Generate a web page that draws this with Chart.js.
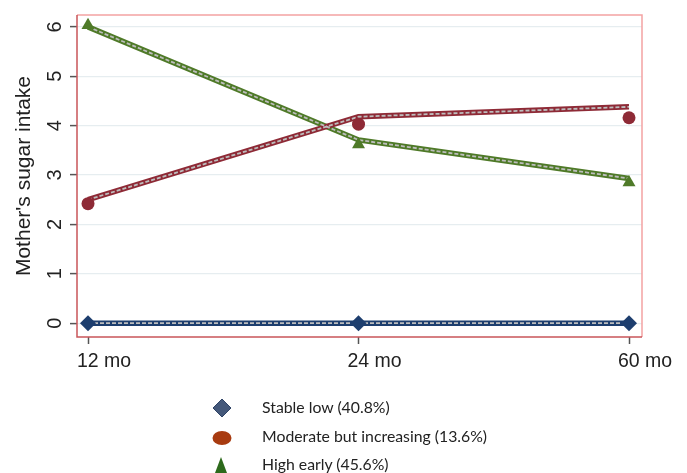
<!DOCTYPE html>
<html>
<head>
<meta charset="utf-8">
<script src="https://cdn.jsdelivr.net/npm/chart.js@4.4.1/dist/chart.umd.min.js"></script>
<style>
  body { margin: 0; background: #fff; }
  #wrap { position: relative; width: 687px; height: 473px; }
  #legend { position: absolute; left: 208px; top: 396px; font-family: Lato, "Open Sans", sans-serif; font-size: 15.8px; color: #222; }
  .item { position: relative; height: 28.5px; line-height: 22px; padding-left: 54px; }
  .item svg { position: absolute; left: 0; top: 2px; }
</style>
</head>
<body>
<div id="wrap">
  <canvas id="chart" width="687" height="473"></canvas>
  <div id="legend"></div>
</div>
<script>
// categories (x positions 0,1,2)
const categories = ['12 mo', '24 mo', '60 mo'];
const yTicks = [0, 1, 2, 3, 4, 5, 6];

// fitted trajectories
const stableFit = [0, 0, 0];
const moderateFit = [2.5, 4.18, 4.38];
const highFit = [6.0, 3.71, 2.93];

// observed means (markers)
const stableObs = [0, 0, 0];
const moderateObs = [2.42, 4.03, 4.16];
const highObs = [6.03, 3.62, 2.85];

const legendLabels = ['Stable low (40.8%)', 'Moderate but increasing (13.6%)', 'High early (45.6%)'];

const toXY = arr => arr.map((v, i) => ({ x: i, y: v }));

function fitLine(data, color) {
    return [
        { data: toXY(data), borderColor: color, borderWidth: 5.5, pointRadius: 0, showLine: true, order: 3 },
        { data: toXY(data), borderColor: '#bdbdbd', borderWidth: 1.8, borderDash: [4, 2], pointRadius: 0, showLine: true, order: 2 }
    ];
}

function markers(data, color, style, r) {
    return { data: toXY(data), backgroundColor: color, borderColor: color, borderWidth: 0, pointStyle: style, pointRadius: r, showLine: false, order: 1 };
}

const frame = {
    id: 'frame',
    afterDraw(chart) {
        const { ctx, chartArea: a } = chart;
        ctx.save();
        ctx.lineWidth = 1.5;
        ctx.strokeStyle = '#f4a3a3';
        ctx.beginPath();
        ctx.moveTo(a.left, a.top); ctx.lineTo(a.right, a.top); ctx.lineTo(a.right, a.bottom);
        ctx.stroke();
        ctx.strokeStyle = '#c9555a';
        ctx.beginPath();
        ctx.moveTo(a.left, a.top); ctx.lineTo(a.left, a.bottom); ctx.lineTo(a.right, a.bottom);
        ctx.stroke();
        ctx.restore();
    }
};

new Chart(document.getElementById('chart'), {
    type: 'scatter',
    data: {
        datasets: [
            ...fitLine(stableFit, '#1d3e6e'),
            ...fitLine(moderateFit, '#8e2a36'),
            ...fitLine(highFit, '#4f7a28'),
            markers(stableObs, '#1d3e6e', 'rectRot', 8),
            markers(moderateObs, '#8e2a36', 'circle', 6.5),
            markers(highObs, '#4f7a28', 'triangle', 7.5)
        ]
    },
    options: {
        responsive: false,
        animation: false,
        layout: { padding: { left: 0, top: 15, right: 45, bottom: 0 } },
        plugins: { legend: { display: false }, tooltip: { enabled: false } },
        scales: {
            x: {
                type: 'linear',
                min: -0.0407,
                max: 2.048,
                afterBuildTicks: s => { s.ticks = categories.map((c, i) => ({ value: i })); },
                afterFit: s => { s.height = 136; s.paddingLeft = 0; s.paddingRight = 0; },
                border: { display: false },
                grid: { drawOnChartArea: false, tickLength: 7, tickColor: '#555', tickWidth: 1.5 },
                ticks: {
                    padding: 6,
                    align: 'start',
                    labelOffset: -11,
                    color: '#222',
                    font: { family: 'Liberation Sans', size: 19.5 },
                    callback: v => categories[v]
                }
            },
            y: {
                min: -0.28,
                max: 6.24,
                afterBuildTicks: s => { s.ticks = yTicks.map(v => ({ value: v })); },
                afterFit: s => { s.width = 77; s.paddingTop = 0; s.paddingBottom = 0; },
                border: { display: false },
                grid: { color: '#e6edf0', lineWidth: 1.2, tickLength: 7, tickColor: '#555', tickWidth: 1.5 },
                ticks: {
                    padding: 9,
                    minRotation: 90,
                    maxRotation: 90,
                    crossAlign: 'center',
                    color: '#222',
                    font: { family: 'Liberation Sans', size: 20 }
                },
                title: {
                    display: true,
                    text: "Mother's sugar intake",
                    color: '#222',
                    font: { family: 'Liberation Sans', size: 21 },
                    padding: { top: 12, bottom: 0 }
                }
            }
        }
    },
    plugins: [frame]
});

// legend
const shapes = [
    '<svg width="30" height="20"><polygon points="14,1 23,10 14,19 5,10" fill="#44587a" stroke="#2f4366" stroke-width="1"/></svg>',
    '<svg width="30" height="20"><ellipse cx="14" cy="11" rx="9.5" ry="7" fill="#a83b10"/></svg>',
    '<svg width="30" height="20"><polygon points="13,2 19,18 7,18" fill="#2d6a1c"/></svg>'
];
const legend = document.getElementById('legend');
legendLabels.forEach((t, i) => {
    const d = document.createElement('div');
    d.className = 'item';
    d.innerHTML = shapes[i] + t;
    legend.appendChild(d);
});
</script>
</body>
</html>
